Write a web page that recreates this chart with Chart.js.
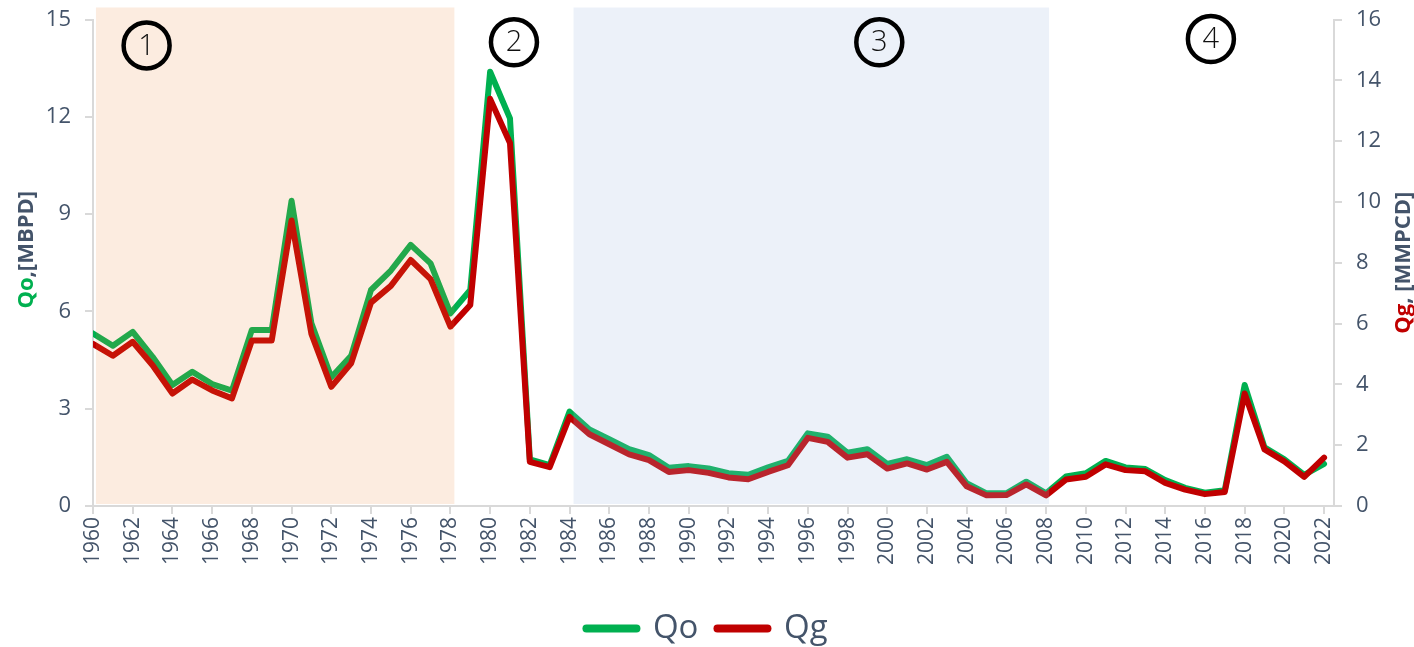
<!DOCTYPE html>
<html>
<head>
<meta charset="utf-8">
<title>Qo / Qg</title>
<script src="https://cdn.jsdelivr.net/npm/chart.js@4.4.1/dist/chart.umd.min.js"></script>
<style>
  html, body { margin: 0; padding: 0; background: #fff; }
  #wrap { width: 1414px; height: 647px; }
</style>
</head>
<body>
<div id="wrap"><canvas id="myChart" width="1414" height="647"></canvas></div>
<script>
// years on the x axis
var years = [1960, 1961, 1962, 1963, 1964, 1965, 1966, 1967, 1968, 1969,
             1970, 1971, 1972, 1973, 1974, 1975, 1976, 1977, 1978, 1979,
             1980, 1981, 1982, 1983, 1984, 1985, 1986, 1987, 1988, 1989,
             1990, 1991, 1992, 1993, 1994, 1995, 1996, 1997, 1998, 1999,
             2000, 2001, 2002, 2003, 2004, 2005, 2006, 2007, 2008, 2009,
             2010, 2011, 2012, 2013, 2014, 2015, 2016, 2017, 2018, 2019,
             2020, 2021, 2022];

// Qo, MBPD (left axis)
var qo = [5.32, 4.94, 5.37, 4.60, 3.73, 4.14, 3.76, 3.56, 5.43, 5.43,
          9.41, 5.63, 3.97, 4.63, 6.66, 7.26, 8.05, 7.48, 5.94, 6.66,
          13.39, 11.95, 1.44, 1.26, 2.91, 2.36, 2.06, 1.75, 1.57, 1.18,
          1.23, 1.16, 1.01, 0.96, 1.19, 1.39, 2.24, 2.14, 1.64, 1.75,
          1.30, 1.44, 1.26, 1.52, 0.70, 0.39, 0.39, 0.75, 0.39, 0.91,
          1.01, 1.39, 1.19, 1.14, 0.80, 0.56, 0.41, 0.49, 3.73, 1.81,
          1.44, 0.96, 1.30];

// Qg, MMPCD (right axis)
var qg = [5.33, 4.94, 5.40, 4.63, 3.70, 4.16, 3.80, 3.54, 5.44, 5.44,
          9.39, 5.66, 3.92, 4.69, 6.69, 7.24, 8.09, 7.46, 5.90, 6.61,
          13.39, 11.94, 1.45, 1.28, 2.93, 2.36, 2.03, 1.70, 1.51, 1.12,
          1.18, 1.09, 0.94, 0.88, 1.12, 1.34, 2.24, 2.11, 1.59, 1.70,
          1.23, 1.40, 1.20, 1.45, 0.65, 0.35, 0.36, 0.71, 0.35, 0.87,
          0.96, 1.37, 1.18, 1.14, 0.76, 0.54, 0.39, 0.46, 3.70, 1.86,
          1.47, 0.96, 1.59];

// shaded periods (start year, end year)
var bandStart = [1960.15, 1984.2];
var bandEnd = [1978.2, 2008.15];
var bandColors = ['rgba(237, 125, 49, 0.15)', 'rgba(160, 185, 225, 0.2)'];

// circled period numbers
var periodLabels = ['1', '2', '3', '4'];
var periodYears = [1962.7, 1981.2, 1999.6, 2016.3];
var periodLevels = [14.2, 14.3, 14.3, 14.4];

var slate = '#44546a';
var green = '#00b050';
var red = '#c00000';
var font = "'Open Sans', 'DejaVu Sans', sans-serif";

function pts(vals) {
  return vals.map(function(v, i) { return {x: years[i], y: v}; });
}

// bands, circled numbers and the two-colour axis titles
var decorations = {
  id: 'decorations',
  afterDatasetsDraw: function(chart) {
    var ctx = chart.ctx, area = chart.chartArea;
    var x = chart.scales.x, y = chart.scales.y;
    ctx.save();
    for (var i = 0; i < bandStart.length; i++) {
      var x0 = x.getPixelForValue(bandStart[i]);
      var x1 = x.getPixelForValue(bandEnd[i]);
      ctx.fillStyle = bandColors[i];
      ctx.fillRect(x0, area.top - 12, x1 - x0, area.bottom - area.top + 10);
    }
    ctx.lineWidth = 4.5;
    ctx.strokeStyle = '#000';
    ctx.fillStyle = '#111';
    ctx.textAlign = 'center';
    ctx.textBaseline = 'middle';
    ctx.font = '300 29px ' + font;
    for (var j = 0; j < periodLabels.length; j++) {
      var cx = x.getPixelForValue(periodYears[j]);
      var cy = y.getPixelForValue(periodLevels[j]);
      ctx.beginPath();
      ctx.arc(cx, cy, 23, 0, Math.PI * 2);
      ctx.stroke();
      ctx.fillText(periodLabels[j], cx, cy + 1);
    }
    ctx.restore();
  },
  afterDraw: function(chart) {
    var ctx = chart.ctx, area = chart.chartArea;
    var mid = (area.top + area.bottom) / 2;
    drawTitle(ctx, 27, mid - 13, 'Qo', green, ',[MBPD]');
    drawTitle(ctx, 1404, mid, 'Qg', red, ', [MMPCD]');
  }
};

function drawTitle(ctx, x, y, first, col, rest) {
  ctx.save();
  ctx.font = 'bold 22px ' + font;
  ctx.textBaseline = 'middle';
  ctx.textAlign = 'left';
  var w1 = ctx.measureText(first).width;
  var w2 = ctx.measureText(rest).width;
  ctx.translate(x, y);
  ctx.rotate(-Math.PI / 2);
  var start = -(w1 + w2) / 2;
  ctx.fillStyle = col;
  ctx.fillText(first, start, 0);
  ctx.fillStyle = slate;
  ctx.fillText(rest, start + w1, 0);
  ctx.restore();
}

// fixed width for the value axes, and less room above the top label
function fitY(width) {
  return function(scale) {
    scale.width = width;
    scale.paddingTop = 19.5;
    scale.paddingBottom = 0;
  };
}

var ctx = document.getElementById('myChart').getContext('2d');
var myChart = new Chart(ctx, {
  type: 'line',
  data: {
    datasets: [{
      label: 'Qo',
      data: pts(qo),
      yAxisID: 'y',
      borderColor: green,
      backgroundColor: green,
      borderWidth: 6,
      borderCapStyle: 'round',
      borderJoinStyle: 'round',
      pointRadius: 0,
      tension: 0,
      order: 1
    }, {
      label: 'Qg',
      data: pts(qg),
      yAxisID: 'y1',
      borderColor: red,
      backgroundColor: red,
      borderWidth: 6,
      borderCapStyle: 'round',
      borderJoinStyle: 'round',
      pointRadius: 0,
      tension: 0,
      order: 0
    }]
  },
  options: {
    responsive: false,
    animation: false,
    layout: { padding: { top: 0, left: 0, right: 0, bottom: -8 } },
    plugins: {
      tooltip: { enabled: false },
      legend: {
        position: 'bottom',
        labels: {
          usePointStyle: true,
          pointStyle: 'line',
          pointStyleWidth: 50,
          padding: 19,
          color: slate,
          font: { family: font, size: 33 },
          sort: function(a, b) { return a.datasetIndex - b.datasetIndex; },
          generateLabels: function(chart) {
            var items = Chart.defaults.plugins.legend.labels.generateLabels(chart);
            items.forEach(function(it) { it.lineWidth = 8; it.lineCap = 'round'; });
            return items;
          }
        }
      }
    },
    scales: {
      x: {
        type: 'linear',
        min: 1960,
        max: 2022.5,
        afterFit: function(scale) { scale.height = 87; },
        grid: { drawOnChartArea: false, drawTicks: true, tickLength: 8, color: '#d9d9d9', lineWidth: 2 },
        border: { display: true, color: '#d9d9d9', width: 2 },
        ticks: {
          stepSize: 2,
          includeBounds: false,
          autoSkip: false,
          maxRotation: 90,
          minRotation: 90,
          padding: 3,
          color: slate,
          font: { family: font, size: 21 },
          callback: function(v) { return String(v); }
        }
      },
      y: {
        position: 'left',
        min: 0,
        max: 15,
        afterFit: fitY(93),
        grid: { drawOnChartArea: false, drawTicks: true, tickLength: 8, color: '#d9d9d9', lineWidth: 2 },
        border: { display: true, color: '#d9d9d9', width: 2 },
        ticks: { stepSize: 3, padding: 14, color: slate, font: { family: font, size: 22 } }
      },
      y1: {
        position: 'right',
        min: 0,
        max: 16,
        afterFit: fitY(80),
        grid: { drawOnChartArea: false, drawTicks: true, tickLength: 8, color: '#d9d9d9', lineWidth: 2 },
        border: { display: true, color: '#d9d9d9', width: 2 },
        ticks: { stepSize: 2, padding: 14, color: slate, font: { family: font, size: 22 } }
      }
    }
  },
  plugins: [decorations]
});
</script>
</body>
</html>
